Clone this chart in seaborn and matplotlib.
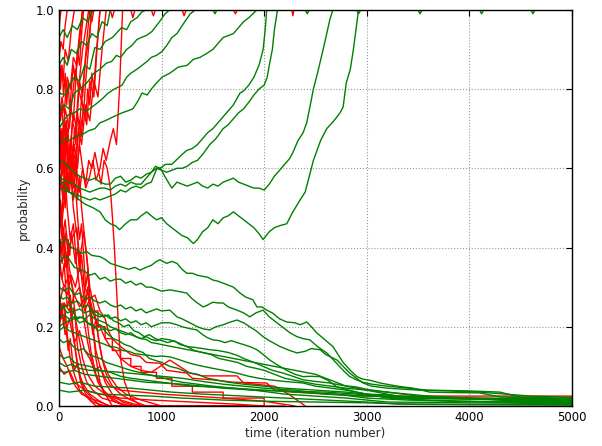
import pandas as pd
import matplotlib
matplotlib.use('Agg')
import matplotlib.pyplot as plt
import seaborn as sns

# traces: (iteration, probability)
red_up = [
    [(0, 0.95), (10, 0.98), (20, 1.0), (900, 1.0), (920, 0.985), (940, 1.0), (2270, 1.0), (2280, 0.985), (2290, 1.0), (5000, 1.0)],
    [(0, 0.88), (20, 0.92), (40, 0.9), (60, 0.96), (80, 1.0), (500, 1.0), (520, 0.98), (540, 1.0), (1700, 1.0), (1720, 0.99), (1740, 1.0), (2300, 1.0)],
    [(0, 0.80), (20, 0.86), (40, 0.82), (60, 0.9), (90, 0.87), (120, 0.95), (150, 1.0), (300, 1.0), (320, 0.97), (340, 1.0), (1200, 1.0), (1220, 0.985), (1240, 1.0), (2200, 1.0)],
    [(0, 0.72), (30, 0.78), (50, 0.74), (80, 0.83), (110, 0.8), (140, 0.88), (170, 0.86), (200, 0.94), (230, 1.0), (700, 1.0), (720, 0.98), (740, 1.0), (2100, 1.0)],
    [(0, 0.65), (20, 0.7), (40, 0.62), (70, 0.68), (100, 0.6), (130, 0.72), (160, 0.69), (190, 0.8), (220, 0.77), (260, 0.88), (290, 0.92), (320, 1.0), (2000, 1.0)],
    [(0, 0.58), (30, 0.64), (60, 0.55), (90, 0.62), (120, 0.57), (150, 0.66), (180, 0.6), (210, 0.7), (240, 0.75), (270, 0.71), (300, 0.82), (340, 0.78), (370, 0.9), (400, 1.0), (2200, 1.0)],
    [(0, 0.6), (40, 0.52), (70, 0.58), (100, 0.54), (140, 0.62), (170, 0.59), (200, 0.66), (230, 0.6), (260, 0.55), (300, 0.58), (330, 0.62), (360, 0.57), (400, 0.6), (430, 0.65), (460, 0.62), (500, 0.67), (530, 0.7), (560, 0.66), (590, 0.8), (620, 1.0), (1900, 1.0)],
    [(0, 0.7), (30, 0.66), (60, 0.75), (100, 0.7), (130, 0.78), (160, 0.85), (190, 0.8), (230, 0.9), (260, 0.95), (290, 1.0), (1500, 1.0)],
    [(0, 0.55), (30, 0.6), (50, 0.7), (80, 0.66), (110, 0.76), (140, 0.72), (170, 0.85), (200, 0.92), (230, 1.0), (1000, 1.0)],
    [(0, 0.5), (25, 0.45), (50, 0.52), (80, 0.6), (100, 0.56), (130, 0.65), (160, 0.62), (190, 0.7), (220, 0.66), (260, 0.76), (300, 0.72), (340, 0.82), (380, 0.78), (420, 0.9), (460, 1.0), (1800, 1.0)],
    [(0, 0.62), (20, 0.68), (50, 0.6), (80, 0.7), (110, 0.64), (140, 0.74), (170, 0.7), (200, 0.82), (230, 0.78), (270, 0.92), (300, 1.0), (1300, 1.0)],
    [(0, 0.72), (15, 0.64), (30, 0.7), (45, 0.62), (60, 0.66), (75, 0.58), (90, 0.64), (105, 0.6), (120, 0.68), (135, 0.62), (150, 0.7), (165, 0.66), (180, 0.74), (200, 0.7), (220, 0.78), (240, 0.74), (260, 0.82), (280, 0.88), (300, 0.94), (320, 1.0), (1100, 1.0)],
    [(0, 0.85), (15, 0.8), (30, 0.86), (45, 0.78), (60, 0.84), (75, 0.76), (90, 0.82), (105, 0.74), (120, 0.8), (140, 0.86), (160, 0.82), (180, 0.9), (200, 0.86), (220, 0.94), (240, 1.0), (1400, 1.0)],
    [(0, 0.45), (15, 0.52), (30, 0.48), (45, 0.56), (60, 0.5), (75, 0.58), (90, 0.54), (105, 0.62), (120, 0.56), (140, 0.64), (160, 0.58), (180, 0.66), (200, 0.72), (220, 0.68), (240, 0.76), (260, 0.72), (280, 0.8), (300, 0.76), (320, 0.84), (340, 0.8), (360, 0.88), (380, 0.94), (400, 1.0), (2000, 1.0)],
]
red_down = [
    [(0, 0.45), (20, 0.5), (40, 0.42), (60, 0.35), (80, 0.38), (100, 0.28), (130, 0.2), (160, 0.14), (200, 0.08), (250, 0.04), (320, 0.02), (400, 0.0), (2000, 0.0)],
    [(0, 0.38), (30, 0.32), (50, 0.36), (80, 0.25), (110, 0.28), (140, 0.18), (170, 0.12), (210, 0.06), (260, 0.03), (330, 0.01), (450, 0.0), (1800, 0.0)],
    [(0, 0.3), (20, 0.22), (50, 0.26), (80, 0.18), (110, 0.12), (150, 0.08), (200, 0.04), (280, 0.02), (360, 0.0), (1500, 0.0)],
    [(0, 0.5), (30, 0.42), (60, 0.47), (90, 0.38), (120, 0.42), (175, 0.45), (200, 0.36), (240, 0.44), (270, 0.38), (300, 0.3), (340, 0.25), (380, 0.18), (420, 0.12), (480, 0.08), (560, 0.05), (650, 0.03), (800, 0.015), (1000, 0.0), (2200, 0.0)],
    [(0, 0.25), (40, 0.3), (80, 0.28), (120, 0.33), (160, 0.3), (200, 0.35), (250, 0.3), (300, 0.27), (350, 0.28), (400, 0.24), (450, 0.22), (480, 0.19), (520, 0.17), (600, 0.15), (700, 0.13), (790, 0.125), (850, 0.11), (985, 0.108), (1050, 0.09), (1245, 0.083), (1300, 0.07), (1500, 0.066), (1700, 0.06), (2025, 0.058), (2100, 0.04), (2300, 0.035), (2600, 0.03), (3000, 0.025), (5000, 0.025)],
    [(0, 0.2), (30, 0.24), (60, 0.18), (100, 0.22), (150, 0.16), (200, 0.19), (250, 0.14), (300, 0.12), (350, 0.09), (400, 0.1), (450, 0.07), (500, 0.05), (600, 0.04), (800, 0.035), (1000, 0.03), (1300, 0.025), (1600, 0.02), (2000, 0.012), (2300, 0.0)],
    [(0, 0.15), (40, 0.12), (80, 0.1), (120, 0.07), (160, 0.05), (220, 0.03), (300, 0.02), (400, 0.01), (500, 0.0), (1700, 0.0)],
    [(0, 0.35), (50, 0.3), (100, 0.33), (150, 0.28), (200, 0.3), (250, 0.24), (300, 0.27), (350, 0.22), (400, 0.2), (450, 0.17), (500, 0.15), (550, 0.14), (600, 0.12), (700, 0.1), (800, 0.09), (900, 0.085), (1080, 0.116), (1275, 0.083), (1400, 0.076), (1735, 0.076), (1800, 0.058), (2100, 0.05), (2250, 0.028), (2400, 0.0)],
    [(0, 0.1), (50, 0.08), (100, 0.09), (150, 0.06), (250, 0.04), (400, 0.03), (600, 0.02), (900, 0.015), (1300, 0.01), (1700, 0.005), (2000, 0.0)],
    [(0, 0.42), (30, 0.36), (60, 0.4), (90, 0.3), (120, 0.22), (150, 0.25), (180, 0.15), (220, 0.1), (270, 0.06), (330, 0.04), (420, 0.02), (550, 0.01), (700, 0.0)],
    [(0, 0.55), (20, 0.48), (50, 0.4), (70, 0.44), (100, 0.35), (130, 0.3), (160, 0.22), (190, 0.18), (230, 0.12), (280, 0.08), (350, 0.05), (450, 0.03), (600, 0.015), (800, 0.0)],
    [(0, 0.65), (30, 0.58), (50, 0.62), (80, 0.5), (110, 0.42), (140, 0.46), (170, 0.36), (200, 0.3), (240, 0.22), (280, 0.16), (330, 0.1), (380, 0.06), (450, 0.03), (550, 0.01), (650, 0.0)],
    [(0, 0.68), (25, 0.62), (50, 0.66), (80, 0.56), (110, 0.6), (140, 0.5), (170, 0.44), (200, 0.38), (230, 0.3), (270, 0.22), (310, 0.14), (360, 0.08), (430, 0.04), (520, 0.02), (640, 0.0)],
    [(0, 0.6), (15, 0.68), (30, 0.6), (45, 0.7), (60, 0.63), (75, 0.72), (90, 0.62), (105, 0.66), (120, 0.58), (135, 0.64), (150, 0.55), (165, 0.62), (180, 0.52), (200, 0.58), (220, 0.5), (240, 0.45), (260, 0.4), (280, 0.35), (300, 0.28), (330, 0.2), (360, 0.12), (400, 0.06), (450, 0.03), (520, 0.0), (1600, 0.0)],
    [(0, 0.52), (20, 0.58), (40, 0.54), (60, 0.62), (80, 0.57), (100, 0.66), (120, 0.6), (140, 0.55), (160, 0.62), (180, 0.58), (200, 0.54), (230, 0.6), (260, 0.56), (290, 0.62), (320, 0.6), (350, 0.64), (380, 0.6), (410, 0.56), (440, 0.62), (470, 0.6), (500, 0.55), (520, 0.48), (540, 0.4), (560, 0.3), (580, 0.2), (600, 0.12), (640, 0.06), (700, 0.02), (800, 0.0)],
    [(0, 0.35), (15, 0.42), (30, 0.38), (45, 0.45), (60, 0.4), (75, 0.36), (90, 0.42), (105, 0.38), (120, 0.44), (140, 0.4), (160, 0.36), (180, 0.4), (200, 0.34), (220, 0.38), (240, 0.32), (260, 0.26), (280, 0.3), (300, 0.24), (330, 0.18), (360, 0.22), (390, 0.16), (420, 0.12), (460, 0.08), (520, 0.05), (600, 0.03), (700, 0.015), (850, 0.0), (1700, 0.0)],
    [(0, 0.28), (15, 0.22), (30, 0.26), (45, 0.2), (60, 0.24), (75, 0.18), (90, 0.14), (110, 0.17), (130, 0.12), (150, 0.09), (180, 0.11), (210, 0.07), (250, 0.05), (300, 0.03), (380, 0.015), (480, 0.0), (1200, 0.0)],
    [(0, 0.78), (15, 0.72), (30, 0.76), (45, 0.68), (60, 0.72), (75, 0.64), (90, 0.6), (105, 0.66), (120, 0.58), (140, 0.52), (160, 0.56), (180, 0.48), (200, 0.42), (220, 0.46), (240, 0.38), (260, 0.3), (280, 0.34), (300, 0.26), (330, 0.2), (360, 0.14), (400, 0.1), (450, 0.06), (520, 0.03), (620, 0.01), (750, 0.0)],
    [(0, 0.22), (50, 0.26), (100, 0.24), (150, 0.28), (200, 0.25), (250, 0.27), (300, 0.27), (300, 0.24), (380, 0.24), (380, 0.2), (450, 0.2), (450, 0.17), (520, 0.17), (520, 0.14), (600, 0.14), (600, 0.12), (700, 0.12), (700, 0.1), (800, 0.1), (800, 0.085), (950, 0.085), (950, 0.07), (1100, 0.07), (1100, 0.05), (1300, 0.05), (1300, 0.035), (1600, 0.035), (1600, 0.02), (2000, 0.02), (2000, 0.0)],
]
green_up = [
    [(0, 0.93), (40, 0.95), (80, 0.93), (130, 0.96), (180, 0.95), (230, 0.98), (280, 0.97), (330, 1.0), (1500, 1.0), (1520, 0.99), (1540, 1.0), (5000, 1.0)],
    [(0, 0.86), (40, 0.88), (80, 0.86), (120, 0.9), (170, 0.89), (220, 0.92), (270, 0.91), (320, 0.94), (370, 0.93), (420, 0.97), (470, 0.96), (500, 1.0), (2400, 1.0), (2420, 0.99), (2440, 1.0), (5000, 1.0)],
    [(0, 0.79), (60, 0.785), (100, 0.81), (150, 0.83), (200, 0.82), (250, 0.86), (300, 0.85), (350, 0.905), (400, 0.9), (450, 0.92), (520, 0.93), (610, 0.955), (660, 0.95), (700, 0.97), (760, 0.98), (810, 0.995), (850, 1.0), (3500, 1.0), (3520, 0.99), (3540, 1.0), (5000, 1.0)],
    [(0, 0.74), (50, 0.76), (100, 0.75), (150, 0.79), (200, 0.8), (250, 0.81), (285, 0.82), (340, 0.84), (400, 0.85), (460, 0.865), (515, 0.87), (560, 0.885), (600, 0.88), (660, 0.9), (710, 0.91), (760, 0.925), (800, 0.93), (850, 0.935), (905, 0.945), (950, 0.96), (980, 0.97), (1035, 0.99), (1080, 1.0), (2900, 1.0), (2920, 0.99), (2940, 1.0), (5000, 1.0)],
    [(0, 0.70), (45, 0.72), (90, 0.735), (150, 0.74), (200, 0.75), (270, 0.745), (350, 0.76), (420, 0.775), (480, 0.79), (540, 0.8), (615, 0.81), (660, 0.83), (700, 0.84), (760, 0.85), (810, 0.86), (860, 0.87), (900, 0.88), (950, 0.885), (1005, 0.895), (1050, 0.91), (1100, 0.93), (1150, 0.94), (1200, 0.96), (1240, 0.975), (1280, 0.99), (1330, 1.0), (4100, 1.0), (4120, 0.99), (4140, 1.0), (5000, 1.0)],
    [(0, 0.66), (50, 0.675), (100, 0.67), (160, 0.68), (225, 0.685), (290, 0.695), (350, 0.70), (400, 0.715), (450, 0.72), (530, 0.73), (615, 0.74), (670, 0.745), (720, 0.75), (770, 0.77), (810, 0.79), (860, 0.785), (900, 0.80), (950, 0.815), (1005, 0.83), (1080, 0.84), (1160, 0.855), (1250, 0.86), (1310, 0.875), (1375, 0.88), (1440, 0.89), (1500, 0.90), (1550, 0.915), (1600, 0.93), (1650, 0.935), (1700, 0.94), (1750, 0.955), (1800, 0.97), (1850, 0.98), (1890, 0.99), (1930, 1.0), (4600, 1.0), (4620, 0.99), (4640, 1.0), (5000, 1.0)],
    [(0, 0.62), (50, 0.615), (100, 0.60), (150, 0.59), (200, 0.58), (250, 0.575), (300, 0.57), (350, 0.575), (400, 0.565), (450, 0.56), (500, 0.56), (550, 0.575), (600, 0.58), (650, 0.565), (700, 0.57), (750, 0.58), (800, 0.575), (850, 0.585), (900, 0.59), (940, 0.605), (985, 0.60), (1040, 0.61), (1100, 0.61), (1160, 0.625), (1200, 0.635), (1245, 0.645), (1300, 0.65), (1350, 0.66), (1400, 0.675), (1450, 0.69), (1500, 0.70), (1550, 0.715), (1600, 0.73), (1650, 0.745), (1700, 0.76), (1765, 0.79), (1800, 0.795), (1850, 0.81), (1900, 0.83), (1950, 0.86), (1990, 0.90), (2010, 0.95), (2025, 1.0), (5000, 1.0)],
    [(0, 0.58), (50, 0.57), (100, 0.565), (150, 0.56), (200, 0.55), (250, 0.545), (300, 0.54), (350, 0.545), (400, 0.55), (450, 0.55), (500, 0.545), (550, 0.555), (600, 0.56), (650, 0.555), (700, 0.565), (750, 0.56), (800, 0.56), (850, 0.575), (900, 0.59), (950, 0.60), (1000, 0.595), (1050, 0.59), (1100, 0.595), (1150, 0.6), (1200, 0.60), (1250, 0.605), (1300, 0.615), (1350, 0.62), (1400, 0.635), (1470, 0.66), (1530, 0.675), (1600, 0.70), (1650, 0.71), (1700, 0.725), (1750, 0.74), (1800, 0.75), (1860, 0.77), (1900, 0.785), (1950, 0.80), (2000, 0.81), (2030, 0.83), (2050, 0.86), (2080, 0.9), (2100, 0.95), (2130, 1.0), (5000, 1.0)],
    [(0, 0.55), (50, 0.545), (100, 0.54), (150, 0.535), (200, 0.53), (250, 0.525), (300, 0.52), (350, 0.525), (400, 0.52), (450, 0.525), (500, 0.53), (550, 0.535), (600, 0.545), (650, 0.54), (700, 0.55), (750, 0.555), (800, 0.55), (850, 0.56), (900, 0.565), (955, 0.60), (990, 0.6), (1030, 0.58), (1100, 0.55), (1150, 0.565), (1200, 0.56), (1250, 0.555), (1300, 0.56), (1350, 0.565), (1400, 0.555), (1450, 0.55), (1500, 0.56), (1550, 0.555), (1600, 0.565), (1650, 0.57), (1700, 0.575), (1750, 0.565), (1800, 0.56), (1850, 0.555), (1900, 0.55), (1950, 0.55), (2000, 0.545), (2050, 0.56), (2100, 0.58), (2154, 0.596), (2200, 0.61), (2250, 0.625), (2280, 0.64), (2330, 0.67), (2380, 0.69), (2415, 0.715), (2450, 0.76), (2480, 0.80), (2520, 0.84), (2575, 0.90), (2610, 0.94), (2640, 0.975), (2670, 1.0), (5000, 1.0)],
    [(0, 0.57), (50, 0.56), (100, 0.54), (150, 0.53), (200, 0.52), (250, 0.51), (335, 0.50), (400, 0.49), (450, 0.47), (500, 0.46), (550, 0.455), (590, 0.445), (650, 0.46), (700, 0.47), (760, 0.47), (800, 0.48), (855, 0.49), (900, 0.48), (950, 0.47), (1000, 0.475), (1050, 0.46), (1100, 0.45), (1150, 0.44), (1200, 0.43), (1250, 0.425), (1310, 0.41), (1350, 0.42), (1400, 0.44), (1450, 0.45), (1500, 0.47), (1550, 0.46), (1600, 0.475), (1650, 0.48), (1700, 0.49), (1750, 0.48), (1800, 0.47), (1850, 0.46), (1900, 0.45), (1950, 0.435), (1990, 0.42), (2050, 0.44), (2100, 0.45), (2150, 0.455), (2220, 0.46), (2280, 0.49), (2350, 0.52), (2400, 0.54), (2480, 0.62), (2550, 0.67), (2610, 0.70), (2680, 0.72), (2740, 0.74), (2770, 0.755), (2800, 0.815), (2840, 0.85), (2870, 0.90), (2915, 0.99), (2940, 1.0), (5000, 1.0)],
]
green_down = [
    [(0, 0.40), (40, 0.42), (75, 0.42), (120, 0.40), (170, 0.395), (220, 0.385), (270, 0.39), (320, 0.38), (400, 0.377), (450, 0.37), (500, 0.36), (560, 0.355), (620, 0.35), (680, 0.345), (740, 0.35), (790, 0.343), (850, 0.35), (900, 0.355), (950, 0.365), (985, 0.369), (1050, 0.36), (1100, 0.365), (1150, 0.36), (1200, 0.345), (1245, 0.335), (1300, 0.335), (1350, 0.33), (1405, 0.327), (1450, 0.325), (1500, 0.318), (1550, 0.315), (1600, 0.31), (1650, 0.305), (1700, 0.30), (1765, 0.285), (1820, 0.275), (1890, 0.268), (1930, 0.25), (1980, 0.25), (2025, 0.242), (2080, 0.235), (2150, 0.22), (2220, 0.212), (2300, 0.21), (2350, 0.205), (2415, 0.212), (2460, 0.2), (2515, 0.184), (2580, 0.17), (2670, 0.15), (2720, 0.13), (2770, 0.11), (2840, 0.09), (2905, 0.074), (2960, 0.068), (3030, 0.065), (3130, 0.058), (3300, 0.05), (3450, 0.045), (3615, 0.035), (3800, 0.034), (4100, 0.033), (4300, 0.023), (4600, 0.02), (4850, 0.015), (5000, 0.012)],
    [(0, 0.36), (50, 0.38), (100, 0.37), (150, 0.35), (200, 0.345), (250, 0.34), (300, 0.33), (350, 0.335), (400, 0.32), (450, 0.325), (500, 0.315), (550, 0.32), (600, 0.32), (650, 0.31), (700, 0.315), (750, 0.305), (800, 0.31), (850, 0.3), (900, 0.3), (950, 0.295), (1000, 0.29), (1080, 0.293), (1150, 0.29), (1245, 0.285), (1300, 0.27), (1350, 0.26), (1405, 0.25), (1450, 0.255), (1500, 0.262), (1550, 0.26), (1600, 0.26), (1650, 0.25), (1735, 0.242), (1800, 0.235), (1860, 0.225), (1920, 0.235), (1990, 0.242), (2050, 0.225), (2125, 0.21), (2200, 0.195), (2250, 0.185), (2320, 0.175), (2380, 0.17), (2445, 0.167), (2520, 0.15), (2610, 0.134), (2680, 0.115), (2770, 0.09), (2830, 0.075), (2900, 0.066), (2960, 0.06), (3050, 0.055), (3200, 0.05), (3400, 0.045), (3600, 0.04), (4000, 0.038), (4300, 0.035), (4500, 0.022), (5000, 0.02)],
    [(0, 0.30), (50, 0.29), (100, 0.3), (150, 0.28), (200, 0.285), (250, 0.27), (300, 0.275), (350, 0.265), (400, 0.26), (450, 0.265), (500, 0.255), (550, 0.25), (600, 0.255), (650, 0.245), (700, 0.25), (750, 0.24), (800, 0.245), (850, 0.235), (900, 0.24), (950, 0.245), (1000, 0.24), (1080, 0.242), (1150, 0.225), (1200, 0.22), (1275, 0.21), (1350, 0.2), (1400, 0.195), (1470, 0.192), (1530, 0.2), (1600, 0.205), (1650, 0.21), (1735, 0.217), (1800, 0.21), (1860, 0.20), (1920, 0.19), (1990, 0.175), (2050, 0.165), (2155, 0.15), (2250, 0.14), (2320, 0.134), (2400, 0.138), (2460, 0.145), (2545, 0.142), (2600, 0.13), (2710, 0.116), (2770, 0.1), (2835, 0.083), (2900, 0.07), (2965, 0.058), (3050, 0.05), (3200, 0.045), (3500, 0.04), (3800, 0.038), (4100, 0.035), (4350, 0.03), (4600, 0.025), (5000, 0.022)],
    [(0, 0.26), (50, 0.25), (100, 0.255), (150, 0.24), (200, 0.245), (250, 0.235), (300, 0.24), (350, 0.23), (400, 0.225), (450, 0.23), (500, 0.22), (550, 0.225), (600, 0.215), (650, 0.22), (700, 0.21), (750, 0.215), (800, 0.205), (850, 0.21), (900, 0.2), (950, 0.205), (1000, 0.21), (1080, 0.21), (1150, 0.205), (1200, 0.2), (1280, 0.195), (1345, 0.192), (1400, 0.18), (1450, 0.172), (1500, 0.167), (1560, 0.165), (1620, 0.16), (1680, 0.165), (1735, 0.16), (1800, 0.155), (1860, 0.15), (1930, 0.142), (1990, 0.13), (2055, 0.116), (2120, 0.105), (2220, 0.09), (2300, 0.08), (2380, 0.074), (2450, 0.075), (2545, 0.074), (2620, 0.065), (2710, 0.048), (2800, 0.042), (2900, 0.035), (3000, 0.03), (3200, 0.028), (3500, 0.02), (4000, 0.018), (4500, 0.015), (5000, 0.012)],
    [(0, 0.22), (50, 0.23), (100, 0.22), (150, 0.225), (200, 0.21), (250, 0.215), (300, 0.205), (350, 0.2), (400, 0.205), (450, 0.195), (500, 0.19), (550, 0.195), (600, 0.185), (650, 0.18), (700, 0.185), (750, 0.175), (800, 0.17), (850, 0.175), (900, 0.168), (950, 0.165), (1000, 0.17), (1080, 0.167), (1160, 0.16), (1245, 0.15), (1320, 0.148), (1400, 0.145), (1470, 0.142), (1550, 0.14), (1650, 0.135), (1735, 0.128), (1800, 0.12), (1900, 0.11), (1990, 0.10), (2080, 0.09), (2185, 0.083), (2280, 0.075), (2380, 0.066), (2500, 0.062), (2640, 0.058), (2760, 0.052), (2900, 0.048), (3000, 0.042), (3200, 0.035), (3500, 0.025), (4000, 0.02), (4500, 0.012), (5000, 0.01)],
    [(0, 0.19), (50, 0.2), (100, 0.19), (150, 0.185), (200, 0.18), (250, 0.175), (300, 0.17), (350, 0.165), (400, 0.16), (450, 0.155), (500, 0.15), (560, 0.148), (620, 0.14), (680, 0.138), (740, 0.132), (800, 0.13), (870, 0.128), (940, 0.125), (1000, 0.126), (1080, 0.124), (1160, 0.118), (1250, 0.11), (1320, 0.105), (1405, 0.10), (1500, 0.095), (1600, 0.09), (1735, 0.083), (1850, 0.075), (1950, 0.07), (2055, 0.066), (2200, 0.062), (2380, 0.058), (2500, 0.05), (2650, 0.045), (2800, 0.04), (3000, 0.03), (3200, 0.02), (3600, 0.015), (4200, 0.01), (5000, 0.008)],
    [(0, 0.24), (40, 0.25), (80, 0.235), (130, 0.24), (180, 0.22), (230, 0.225), (280, 0.21), (330, 0.205), (380, 0.19), (430, 0.195), (480, 0.18), (530, 0.17), (580, 0.165), (640, 0.155), (700, 0.15), (760, 0.14), (820, 0.135), (880, 0.12), (940, 0.115), (1000, 0.11), (1080, 0.1), (1160, 0.095), (1250, 0.085), (1350, 0.08), (1450, 0.07), (1550, 0.065), (1650, 0.06), (1800, 0.055), (2000, 0.05), (2200, 0.045), (2500, 0.04), (2800, 0.035), (3000, 0.03), (3300, 0.022), (3700, 0.02), (4300, 0.018), (5000, 0.016)],
    [(0, 0.17), (40, 0.16), (90, 0.165), (140, 0.15), (190, 0.14), (240, 0.145), (290, 0.13), (340, 0.125), (400, 0.12), (460, 0.11), (520, 0.105), (580, 0.1), (640, 0.095), (700, 0.09), (780, 0.085), (860, 0.08), (940, 0.075), (1020, 0.07), (1100, 0.065), (1200, 0.06), (1350, 0.055), (1500, 0.05), (1700, 0.045), (1900, 0.04), (2200, 0.03), (2500, 0.025), (2800, 0.02), (3200, 0.01), (4000, 0.008), (5000, 0.006)],
    [(0, 0.13), (50, 0.12), (100, 0.125), (150, 0.11), (200, 0.105), (300, 0.1), (400, 0.09), (500, 0.085), (600, 0.075), (700, 0.07), (850, 0.065), (1000, 0.06), (1150, 0.055), (1300, 0.05), (1500, 0.048), (1700, 0.045), (2000, 0.04), (2300, 0.035), (2700, 0.03), (3000, 0.02), (3400, 0.015), (3800, 0.012), (5000, 0.01)],
    [(0, 0.09), (50, 0.085), (150, 0.09), (250, 0.08), (400, 0.075), (550, 0.07), (700, 0.065), (850, 0.06), (1000, 0.058), (1200, 0.055), (1400, 0.05), (1600, 0.045), (1900, 0.04), (2200, 0.038), (2600, 0.035), (2900, 0.03), (3300, 0.02), (3800, 0.018), (4500, 0.015), (5000, 0.014)],
    [(0, 0.06), (100, 0.055), (200, 0.06), (350, 0.05), (500, 0.048), (700, 0.045), (900, 0.04), (1100, 0.035), (1400, 0.03), (1800, 0.025), (2200, 0.02), (2600, 0.015), (3000, 0.01), (3300, 0.005), (4000, 0.004), (5000, 0.004)],
    [(0, 0.04), (100, 0.035), (250, 0.04), (400, 0.03), (600, 0.028), (900, 0.025), (1200, 0.02), (1600, 0.015), (2000, 0.012), (2500, 0.01), (3000, 0.008), (3500, 0.004), (5000, 0.002)],
    [(0, 0.11), (60, 0.1), (120, 0.105), (200, 0.095), (300, 0.09), (450, 0.088), (600, 0.085), (800, 0.08), (1000, 0.075), (1200, 0.07), (1400, 0.062), (1600, 0.055), (1800, 0.05), (2000, 0.045), (2300, 0.04), (2600, 0.03), (3000, 0.025), (3500, 0.022), (3900, 0.02), (4400, 0.015), (5000, 0.012)],
    [(0, 0.28), (40, 0.27), (80, 0.275), (130, 0.26), (180, 0.265), (230, 0.25), (280, 0.255), (330, 0.24), (380, 0.235), (430, 0.225), (480, 0.23), (530, 0.215), (580, 0.21), (630, 0.2), (680, 0.205), (730, 0.19), (780, 0.185), (830, 0.175), (880, 0.18), (940, 0.17), (1000, 0.165), (1060, 0.16), (1120, 0.165), (1180, 0.155), (1250, 0.15), (1320, 0.14), (1400, 0.135), (1480, 0.13), (1560, 0.12), (1650, 0.115), (1740, 0.11), (1830, 0.1), (1920, 0.095), (2000, 0.09), (2100, 0.08), (2200, 0.07), (2300, 0.065), (2400, 0.06), (2500, 0.055), (2650, 0.05), (2800, 0.045), (3000, 0.04), (3200, 0.035), (3400, 0.03), (3600, 0.025), (4000, 0.02), (4500, 0.018), (5000, 0.015)],
    [(0, 0.2), (50, 0.21), (100, 0.215), (150, 0.22), (200, 0.225), (250, 0.22), (300, 0.23), (350, 0.22), (400, 0.215), (450, 0.21), (500, 0.2), (550, 0.195), (600, 0.19), (650, 0.185), (700, 0.18), (750, 0.175), (800, 0.17), (850, 0.168), (900, 0.16), (950, 0.158), (1000, 0.155), (1100, 0.15), (1200, 0.145), (1300, 0.14), (1400, 0.135), (1500, 0.13), (1600, 0.125), (1700, 0.12), (1800, 0.115), (1900, 0.11), (2000, 0.105), (2100, 0.1), (2200, 0.095), (2300, 0.09), (2400, 0.085), (2500, 0.08), (2600, 0.07), (2700, 0.06), (2800, 0.05), (2900, 0.045), (3000, 0.04), (3100, 0.035), (3200, 0.03), (3300, 0.025), (3500, 0.022), (4000, 0.02), (5000, 0.018)],
]

# long table, one run id per trace
rows = []
run = 0
for kind, group in [('red', red_up), ('red', red_down), ('green', green_up), ('green', green_down)]:
    for line in group:
        for t, p in line:
            rows.append({'t': t, 'p': p, 'kind': kind, 'run': run})
        run += 1
df = pd.DataFrame(rows)

sns.set_style('white')
plt.rcParams['font.family'] = ['DejaVu Sans']
plt.rcParams['font.size'] = 8.5

fig, ax = plt.subplots(figsize=(6.02, 4.46), dpi=100)
fig.subplots_adjust(left=0.098, right=0.950, bottom=0.0897, top=0.978)

sns.lineplot(data=df, x='t', y='p', hue='kind', units='run', estimator=None,
             sort=False, hue_order=['red', 'green'],
             palette={'red': 'red', 'green': 'green'},
             linewidth=1.0, legend=False, ax=ax)

ax.set_xlim(0, 5000)
ax.set_ylim(0, 1)
ax.set_xticks([0, 1000, 2000, 3000, 4000, 5000])
ax.set_yticks([0.0, 0.2, 0.4, 0.6, 0.8, 1.0])
ax.grid(True, linestyle=':', color='0.6', linewidth=0.8)
ax.tick_params(direction='in', top=True, right=True, length=4, width=0.8, colors='black')
for s in ax.spines.values():
    s.set_color('black')
    s.set_linewidth(1.0)
ax.set_xlabel('time (iteration number)', labelpad=2)
ax.set_ylabel('probability', labelpad=4)

plt.savefig('out.png', dpi=100)
